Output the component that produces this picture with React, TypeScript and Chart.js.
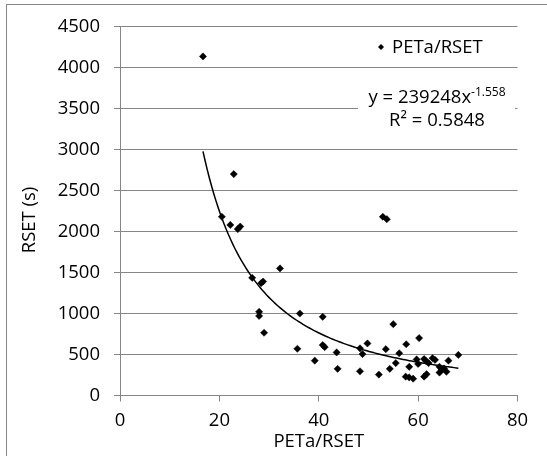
import React, { useEffect, useRef } from "react";
import { Chart, registerables } from "chart.js";

Chart.register(...registerables);

// ---- data ----
const xValues = [
  16.7, 20.5, 22.2, 22.9, 23.7, 24.2, 26.6, 28.4, 28.8, 28.0, 28.0, 29.0, 32.2,
  35.7, 36.2, 39.2, 40.8, 40.8, 41.2, 43.6, 43.8, 48.3, 48.8, 48.3, 49.8, 52.1,
  52.9, 53.7, 53.5, 54.3, 55.0, 55.5, 56.2, 57.6, 58.2, 57.5, 58.2, 59.0, 59.7,
  60.0, 60.2, 61.2, 61.6, 62.1, 62.9, 63.4, 61.2, 61.7, 64.3, 64.7, 65.2, 65.7,
  64.3, 66.1, 68.1,
];
const yValues = [
  4135, 2180, 2080, 2700, 2030, 2060, 1435, 1370, 1390, 1020, 970, 765, 1550,
  570, 1000, 425, 960, 615, 590, 525, 325, 575, 505, 295, 635, 255,
  2180, 2150, 565, 325, 870, 395, 515, 625, 350, 230, 220, 205, 440,
  385, 700, 445, 420, 395, 455, 435, 230, 260, 350, 310, 330, 290,
  280, 425, 495,
];
const xTicks = [0, 20, 40, 60, 80];
const yTicks = [0, 500, 1000, 1500, 2000, 2500, 3000, 3500, 4000, 4500];
const seriesName = "PETa/RSET";
const xTitle = "PETa/RSET";
const yTitle = "RSET (s)";
// power trendline shown in the chart: y = a * x^b
const fitA = 239248;
const fitB = -1.558;
const fitLabelMain = "y = 239248x";
const fitLabelExp = "-1.558";
const fitLabelR2 = "R² = 0.5848";

const FAMILY = "'Open Sans', sans-serif";
const FONT_SIZE = 18.5;
const GRID = "#868686";

const overlayPlugin = {
  id: "overlay",
  afterDraw(chart: any) {
    const ctx = chart.ctx as CanvasRenderingContext2D;
    const area = chart.chartArea;
    ctx.save();
    // outer chart border (right / bottom fall outside the picture)
    ctx.strokeStyle = GRID;
    ctx.lineWidth = 1;
    ctx.strokeRect(6.5, 4.5, 700, 700);

    // trendline label box
    ctx.fillStyle = "#ffffff";
    ctx.fillRect(358, 86, 157, 46);
    ctx.fillStyle = "#000";
    ctx.textBaseline = "alphabetic";
    ctx.font = `${FONT_SIZE}px ${FAMILY}`;
    const wMain = ctx.measureText(fitLabelMain).width;
    ctx.font = `12px ${FAMILY}`;
    const wExp = ctx.measureText(fitLabelExp).width;
    const cx = 437;
    const startX = cx - (wMain + wExp) / 2;
    ctx.font = `${FONT_SIZE}px ${FAMILY}`;
    ctx.textAlign = "left";
    ctx.fillText(fitLabelMain, startX, 103);
    ctx.font = `12px ${FAMILY}`;
    ctx.fillText(fitLabelExp, startX + wMain, 96);
    ctx.font = `${FONT_SIZE}px ${FAMILY}`;
    ctx.textAlign = "center";
    ctx.fillText(fitLabelR2, cx, 126);

    // legend
    ctx.beginPath();
    const mx = 381, my = 47, r = 3;
    ctx.moveTo(mx - r, my);
    ctx.lineTo(mx, my - r);
    ctx.lineTo(mx + r, my);
    ctx.lineTo(mx, my + r);
    ctx.closePath();
    ctx.fill();
    ctx.textAlign = "left";
    ctx.fillText(seriesName, 392, 53);

    // axis titles
    ctx.textAlign = "center";
    ctx.fillText(xTitle, (area.left + area.right) / 2, 447);
    ctx.translate(35, 220);
    ctx.rotate(-Math.PI / 2);
    ctx.fillText(yTitle, 0, 0);
    ctx.restore();
  },
};

export default function App() {
  const ref = useRef<HTMLCanvasElement | null>(null);

  useEffect(() => {
    if (!ref.current) return;
    const points = xValues.map((x, i) => ({ x, y: yValues[i] }));
    const xMin = Math.min(...xValues);
    const xMax = Math.max(...xValues);
    const n = 120;
    const trend = Array.from({ length: n + 1 }, (_, i) => {
      const x = xMin + ((xMax - xMin) * i) / n;
      return { x, y: fitA * Math.pow(x, fitB) };
    });
    const font = { family: FAMILY, size: FONT_SIZE };
    const plain = (v: any) => String(v);

    const chart = new Chart(ref.current, {
      type: "scatter",
      data: {
        datasets: [
          {
            label: seriesName,
            data: points,
            pointStyle: "rectRot",
            pointRadius: 3.6,
            backgroundColor: "#000",
            borderColor: "#000",
            borderWidth: 0.5,
            showLine: false,
          } as any,
          {
            label: "trend",
            type: "line",
            data: trend,
            borderColor: "#000",
            borderWidth: 1.5,
            pointRadius: 0,
            fill: false,
            tension: 0,
          } as any,
        ],
      },
      options: {
        responsive: false,
        animation: false,
        devicePixelRatio: 1,
        layout: { padding: { left: 0, top: 26.5, right: 29.5, bottom: 0 } },
        plugins: { legend: { display: false }, tooltip: { enabled: false } },
        scales: {
          x: {
            type: "linear",
            min: 0,
            max: 80,
            afterBuildTicks: (s: any) => {
              s.ticks = xTicks.map((v) => ({ value: v }));
            },
            grid: { drawOnChartArea: false, drawTicks: true, tickLength: 6, color: GRID, lineWidth: 1 },
            border: { display: true, color: GRID, width: 1 },
            ticks: { font, color: "#000", padding: 8, maxRotation: 0, autoSkip: false, callback: plain },
            afterFit: (s: any) => {
              s.height = 60.5;
              s.paddingLeft = 0;
              s.paddingRight = 0;
            },
          },
          y: {
            type: "linear",
            min: 0,
            max: 4500,
            afterBuildTicks: (s: any) => {
              s.ticks = yTicks.map((v) => ({ value: v }));
            },
            grid: { drawOnChartArea: true, drawTicks: true, tickLength: 6, color: GRID, lineWidth: 1 },
            border: { display: true, color: GRID, width: 1 },
            ticks: { font, color: "#000", padding: 14, autoSkip: false, callback: plain },
            afterFit: (s: any) => {
              s.width = 120;
              s.paddingTop = 0;
              s.paddingBottom = 0;
            },
          },
        },
      } as any,
      plugins: [overlayPlugin],
    });
    return () => chart.destroy();
  }, []);

  return (
    <div style={{ position: "absolute", left: 0, top: 0, width: 547, height: 456, background: "#fff" }}>
      <canvas ref={ref} width={547} height={456} style={{ display: "block", width: 547, height: 456 }} />
    </div>
  );
}
